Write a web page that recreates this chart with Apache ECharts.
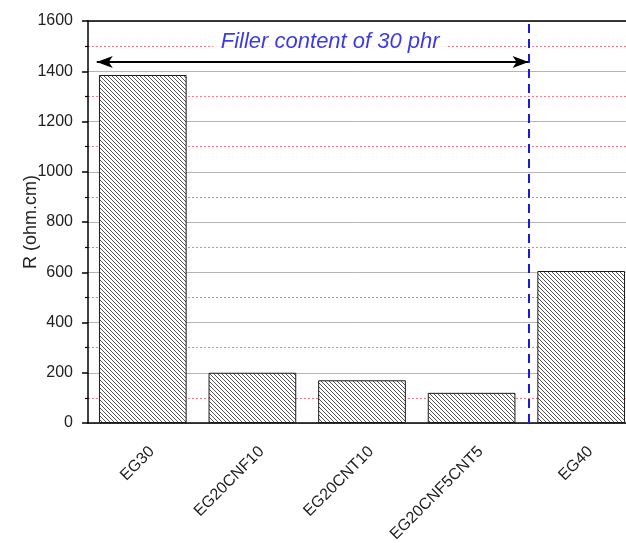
<!DOCTYPE html>
<html>
<head>
<meta charset="utf-8">
<script src="https://cdn.jsdelivr.net/npm/echarts@6/dist/echarts.min.js"></script>
<style>
  html, body { margin: 0; padding: 0; background: #fff; }
  #chart { width: 626px; height: 543px; }
</style>
</head>
<body>
<div id="chart"></div>
<script>
// Samples and their resistivity
const categories = ['EG30', 'EG20CNF10', 'EG20CNT10', 'EG20CNF5CNT5', 'EG40'];
const resistivity = [1385, 200, 170, 120, 605];

// Y axis range and tick step
const yMin = 0;
const yMax = 1600;
const yStep = 200;

// Annotation: group boundary and the span of the 30 phr group (band coordinates)
const boundaryX = 3.52;
const spanStart = -0.42;
const spanY = 1437;
const noteText = 'Filler content of 30 phr';
const notePos = [1.71, 1515];

// Diagonal hatch fill for the bars
function hatch() {
  const s = 4;
  const c = document.createElement('canvas');
  c.width = s; c.height = s;
  const g = c.getContext('2d');
  g.fillStyle = '#ffffff';
  g.fillRect(0, 0, s, s);
  g.strokeStyle = '#555555';
  g.lineWidth = 1;
  g.beginPath();
  g.moveTo(-1, -1); g.lineTo(s + 1, s + 1);
  g.moveTo(-1, s - 1); g.lineTo(1, s + 1);
  g.moveTo(s - 1, -1); g.lineTo(s + 1, 1);
  g.stroke();
  return c;
}

const chart = echarts.init(document.getElementById('chart'));
const font = 'Liberation Sans, Arial, sans-serif';

chart.setOption({
  animation: false,
  backgroundColor: '#ffffff',
  grid: { left: 88, width: 548, top: 21, height: 402, outerBoundsMode: 'none', containLabel: false },
  xAxis: [
    {
      type: 'category',
      data: categories,
      position: 'bottom',
      axisLine: { lineStyle: { color: '#000', width: 1.5 } },
      axisTick: { alignWithLabel: true, length: 6, lineStyle: { color: '#000', width: 1.5 } },
      axisLabel: {
        rotate: 45, fontSize: 16, color: '#222', fontFamily: font,
        margin: 17, verticalAlign: 'top', padding: [5, 0, 0, 0]
      }
    },
    {
      type: 'value',
      min: -0.5,
      max: 4.5,
      position: 'top',
      axisLine: { show: true, onZero: false, lineStyle: { color: '#000', width: 1.5 } },
      axisTick: { show: false },
      axisLabel: { show: false },
      splitLine: { show: false }
    }
  ],
  yAxis: {
    type: 'value',
    min: yMin,
    max: yMax,
    interval: yStep,
    name: 'R (ohm.cm)',
    nameLocation: 'middle',
    nameGap: 48,
    nameMoveOverlap: false,
    nameTextStyle: { fontSize: 18, color: '#222', fontFamily: font },
    axisLine: { show: true, onZero: false, lineStyle: { color: '#000', width: 1.5 } },
    axisTick: { show: true, length: 6, lineStyle: { color: '#000', width: 1.5 } },
    minorTick: { show: true, splitNumber: 2, length: 3, lineStyle: { color: '#000', width: 1.2 } },
    axisLabel: { fontSize: 16, color: '#222', fontFamily: font, margin: 15, formatter: v => String(v) },
    splitLine: { show: true, lineStyle: { color: '#b4b4b4', width: 1 } },
    minorSplitLine: { show: true, lineStyle: { color: '#f07a86', width: 1, type: [2, 2] } }
  },
  series: [
    {
      type: 'bar',
      data: resistivity,
      barWidth: '80%',
      itemStyle: {
        color: { image: hatch(), repeat: 'repeat' },
        borderColor: '#1a1a1a',
        borderWidth: 1
      },
      z: 3
    },
    {
      type: 'scatter',
      xAxisIndex: 1,
      data: [notePos],
      symbolSize: 0,
      silent: true,
      z: 4,
      label: {
        show: true,
        position: 'inside',
        formatter: noteText,
        fontSize: 22,
        fontStyle: 'italic',
        color: '#0a0ae0',
        fontFamily: font,
        backgroundColor: '#ffffff',
        padding: [2, 8]
      },
      markLine: {
        silent: true,
        animation: false,
        label: { show: false },
        data: [
          [
            { coord: [spanStart, spanY], symbol: 'arrow', symbolSize: [9, 16], lineStyle: { color: '#000', width: 2, type: 'solid' } },
            { coord: [boundaryX, spanY], symbol: 'arrow', symbolSize: [9, 16] }
          ],
          [
            { coord: [boundaryX, yMin], symbol: 'none', lineStyle: { color: '#1a1adf', width: 2, type: [9, 6] } },
            { coord: [boundaryX, yMax], symbol: 'none' }
          ]
        ]
      }
    }
  ]
});
</script>
</body>
</html>
